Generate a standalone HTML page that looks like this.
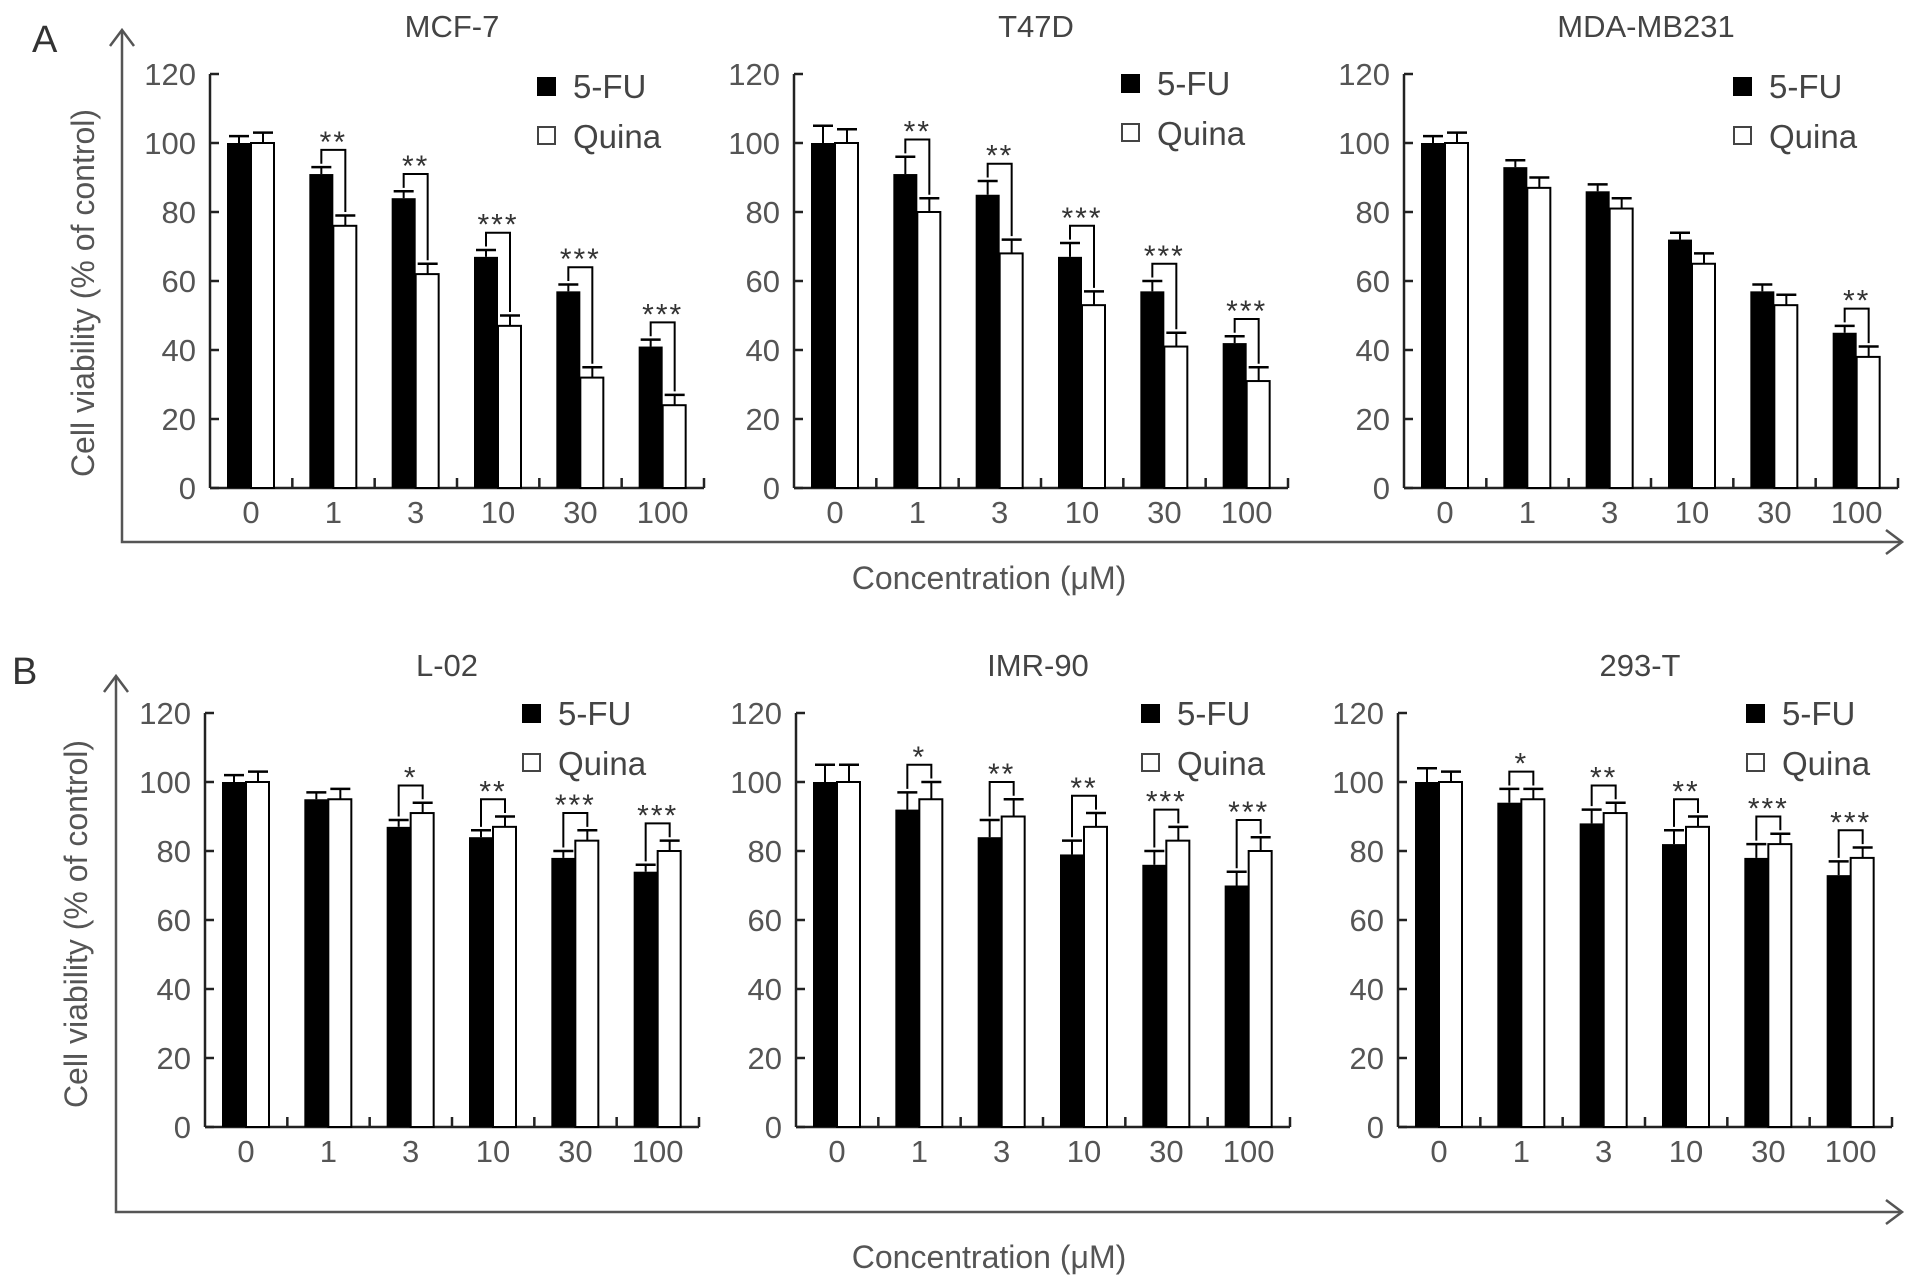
<!DOCTYPE html>
<html><head><meta charset="utf-8">
<style>
html,body{margin:0;padding:0;background:#fff;}
svg{display:block;font-family:"Liberation Sans",Arial,sans-serif;}
</style></head>
<body>
<svg id="fig" width="1913" height="1286" viewBox="0 0 1913 1286" xmlns="http://www.w3.org/2000/svg"></svg>
<script>
const categories = ["0","1","3","10","30","100"];
const yTicks = [0,20,40,60,80,100,120];
const mcf7Fu = [100,91,84,67,57,41];
const mcf7FuErr = [2,2,2,2,2,2];
const mcf7Qu = [100,76,62,47,32,24];
const mcf7QuErr = [3,3,3,3,3,3];
const mcf7Sig = ["","**","**","***","***","***"];
const t47dFu = [100,91,85,67,57,42];
const t47dFuErr = [5,5,4,4,3,2];
const t47dQu = [100,80,68,53,41,31];
const t47dQuErr = [4,4,4,4,4,4];
const t47dSig = ["","**","**","***","***","***"];
const mdaFu = [100,93,86,72,57,45];
const mdaFuErr = [2,2,2,2,2,2];
const mdaQu = [100,87,81,65,53,38];
const mdaQuErr = [3,3,3,3,3,3];
const mdaSig = ["","","","","","**"];
const l02Fu = [100,95,87,84,78,74];
const l02FuErr = [2,2,2,2,2,2];
const l02Qu = [100,95,91,87,83,80];
const l02QuErr = [3,3,3,3,3,3];
const l02Sig = ["","","*","**","***","***"];
const imrFu = [100,92,84,79,76,70];
const imrFuErr = [5,5,5,4,4,4];
const imrQu = [100,95,90,87,83,80];
const imrQuErr = [5,5,5,4,4,4];
const imrSig = ["","*","**","**","***","***"];
const t293Fu = [100,94,88,82,78,73];
const t293FuErr = [4,4,4,4,4,4];
const t293Qu = [100,95,91,87,82,78];
const t293QuErr = [3,3,3,3,3,3];
const t293Sig = ["","*","**","**","***","***"];

const NS="http://www.w3.org/2000/svg";
const svg=document.getElementById('fig');
function mk(tag,attrs,parent){const e=document.createElementNS(NS,tag);for(const k in attrs)e.setAttribute(k,attrs[k]);(parent||svg).appendChild(e);return e;}
function txt(s,attrs,parent){const e=mk('text',attrs,parent);e.textContent=s;return e;}

function panel(title,x0,y0,yTop,legX,legDy,fu,fuE,qu,quE,sig,key){
  const g=mk('g',{});
  
  
  const W=494, gw=W/categories.length;
  const ys=v=>y0-(v/120)*(y0-yTop);
  const xg=i=>x0+i*gw;
  const t=txt(title,{x:x0+242,y:yTop-37,'text-anchor':'middle','font-size':31,fill:'#444'},g);
  
  
  mk('line',{x1:x0,y1:yTop,x2:x0,y2:y0,stroke:'#222','stroke-width':2.5},g);
  mk('line',{x1:x0,y1:y0,x2:x0+W,y2:y0,stroke:'#222','stroke-width':2.5},g);
  yTicks.forEach(v=>{
    mk('line',{x1:x0,y1:ys(v),x2:x0+9,y2:ys(v),stroke:'#222','stroke-width':2.5},g);
    const l=txt(String(v),{x:x0-14,y:ys(v)+11,'text-anchor':'end','font-size':31,fill:'#555'},g);
    
    
  });
  for(let i=1;i<=categories.length;i++){
    mk('line',{x1:xg(i),y1:y0,x2:xg(i),y2:y0-10,stroke:'#222','stroke-width':2.5},g);
  }
  categories.forEach((c,i)=>{
    const l=txt(c,{x:xg(i)+41,y:y0+35,'text-anchor':'middle','font-size':31,fill:'#555'},g);
    
    
    const bx=xg(i)+17, wx=xg(i)+41, bw=24;
    const b=mk('rect',{x:bx,y:ys(fu[i]),width:bw,height:y0-ys(fu[i]),fill:'#000'},g);
    
    
    const w=mk('rect',{x:wx,y:ys(qu[i]),width:bw-1,height:y0-ys(qu[i]),fill:'#fff',stroke:'#000','stroke-width':2},g);
    
    
    const bc=bx+bw/2, wc=wx+bw/2;
    mk('line',{x1:bc,y1:ys(fu[i]),x2:bc,y2:ys(fu[i]+fuE[i]),stroke:'#000','stroke-width':2},g);
    mk('line',{x1:bc-10,y1:ys(fu[i]+fuE[i]),x2:bc+10,y2:ys(fu[i]+fuE[i]),stroke:'#000','stroke-width':2.5},g);
    mk('line',{x1:wc,y1:ys(qu[i]),x2:wc,y2:ys(qu[i]+quE[i]),stroke:'#000','stroke-width':2},g);
    mk('line',{x1:wc-10,y1:ys(qu[i]+quE[i]),x2:wc+10,y2:ys(qu[i]+quE[i]),stroke:'#000','stroke-width':2.5},g);
    if(sig[i]){
      const bt=fu[i]+fuE[i], wt=qu[i]+quE[i];
      const top=Math.max(bt,wt)+5;
      const p=mk('path',{d:`M${bc} ${ys(bt+1)} V${ys(top)} H${wc} V${ys(wt+1)}`,fill:'none',stroke:'#000','stroke-width':2},g);
      
      
      const s=txt(sig[i],{x:(bc+wc)/2,y:ys(top)+2,'text-anchor':'middle','font-size':30,'letter-spacing':2,fill:'#333'},g);
      
      
    }
  });
  const lg=mk('g',{},g);
  
  
  const ly=yTop+legDy;
  mk('rect',{x:legX,y:ly+3,width:19,height:19,fill:'#000'},lg);
  txt('5-FU',{x:legX+36,y:ly+24,'font-size':33,fill:'#444'},lg);
  mk('rect',{x:legX+1,y:ly+53,width:17,height:17,fill:'#fff',stroke:'#444','stroke-width':2},lg);
  txt('Quina',{x:legX+36,y:ly+74,'font-size':33,fill:'#444'},lg);
}

function frame(xA,yTopA,yBot,label,labelY,ytitleY,concY){
  mk('path',{d:`M${xA} ${yTopA} V${yBot} H1900`,fill:'none',stroke:'#555','stroke-width':2.5});
  mk('path',{d:`M${xA-12} ${yTopA+16} L${xA} ${yTopA} L${xA+12} ${yTopA+16}`,fill:'none',stroke:'#555','stroke-width':2.5});
  mk('path',{d:`M1886 ${yBot-12} L1902 ${yBot} L1886 ${yBot+12}`,fill:'none',stroke:'#555','stroke-width':2.5});
  const L=txt(label,{x:label==='A'?32:12,y:labelY,'font-size':38,fill:'#333'});
  
  
  const yt=txt('Cell viability (% of control)',{x:0,y:0,'text-anchor':'middle','font-size':32,fill:'#555',transform:`translate(${label==='A'?94:87},${ytitleY}) rotate(-90)`});
  
  
  const ct=txt('Concentration (\u03bcM)',{x:989,y:concY,'text-anchor':'middle','font-size':32,fill:'#555'});
  
  
}

frame(122,30,542,'A',52,293,589);
frame(116,676,1212,'B',684,924,1268);

panel('MCF-7',210,488,74,537,0,mcf7Fu,mcf7FuErr,mcf7Qu,mcf7QuErr,mcf7Sig,'mcf7');
panel('T47D',794,488,74,1121,-3,t47dFu,t47dFuErr,t47dQu,t47dQuErr,t47dSig,'t47d');
panel('MDA-MB231',1404,488,74,1733,0,mdaFu,mdaFuErr,mdaQu,mdaQuErr,mdaSig,'mda');
panel('L-02',205,1127,713,522,-12,l02Fu,l02FuErr,l02Qu,l02QuErr,l02Sig,'l02');
panel('IMR-90',796,1127,713,1141,-12,imrFu,imrFuErr,imrQu,imrQuErr,imrSig,'imr90');
panel('293-T',1398,1127,713,1746,-12,t293Fu,t293FuErr,t293Qu,t293QuErr,t293Sig,'t293');
</script>
</body></html>
